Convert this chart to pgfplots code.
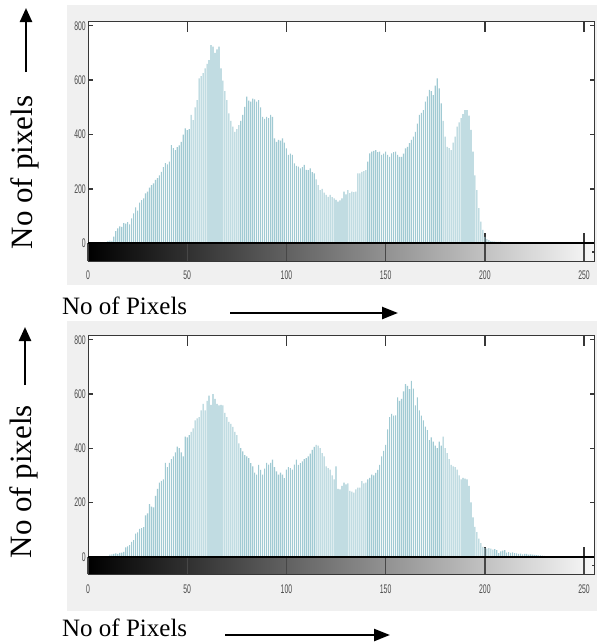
\documentclass[border=0pt]{standalone}
\usepackage{fontspec}
\setmainfont{Liberation Serif}
\newfontfamily\tickfont[FakeStretch=0.55]{Liberation Sans}
\usepackage{pgfplots}
\pgfplotsset{compat=1.18}
\usetikzlibrary{arrows.meta}

\definecolor{panelbg}{RGB}{240,240,240}
\definecolor{barcol}{RGB}{160,202,211}
\definecolor{framecol}{RGB}{55,55,55}

\pgfplotsset{
  common/.style={
    scale only axis, width=506bp, xmin=0, xmax=255,
    anchor=south west, tick align=inside,
    tick style={framecol, line width=1.4bp},
    axis line style={framecol, line width=0.8bp},
    tick label style={font=\tickfont\fontsize{12.5bp}{12.5bp}\selectfont, text=black!70, inner sep=1bp},
    /pgf/number format/assume math mode=true,
  },
  % histogram part: long x ticks top and bottom
  histA/.style={common, ymin=0, ymax=815, clip=false,
    xtick={50,100,...,250}, xticklabels={}, ytick=\empty,
    major tick length=10bp, axis background/.style={fill=white}},
  % same frame again, only the short y ticks and their labels
  histB/.style={common, ymin=0, ymax=815,
    xtick=\empty, ytick={0,200,...,800}, major tick length=4.5bp,
    yticklabel style={xshift=-1bp}},
  % grey-level strip below
  cbar/.style={common, ymin=0, ymax=1, axis on top,
    xtick={0,50,...,250}, xmajorgrids,
    grid style={black!72, line width=1.4bp},
    xtick style={draw=none},
    ytick={0.5}, yticklabels={}, ytick pos=right, major tick length=2.5bp,
    xticklabel style={yshift=-9bp}},
}

\begin{document}
\begin{tikzpicture}
\useasboundingbox (0,0) rectangle (597bp,-643bp);
\fill[panelbg] (67bp,-5bp) rectangle (597bp,-285bp);
\fill[panelbg] (67bp,-321bp) rectangle (597bp,-611bp);

% ---------- top panel ----------
\begin{axis}[histA, at={(88bp,-243.3bp)}, height=221.6bp]
\addplot[ybar, bar width=1.1bp, fill=barcol, draw=none] coordinates {
(10,8) (11,10) (12,9) (13,25) (14,45) (15,55) (16,62) (17,60) (18,74) (19,72)
(20,78) (21,70) (22,92) (23,110) (24,132) (25,120) (26,150) (27,159) (28,165) (29,184)
(30,190) (31,205) (32,214) (33,220) (34,233) (35,240) (36,250) (37,263) (38,280) (39,295)
(40,290) (41,300) (42,361) (43,350) (44,343) (45,354) (46,360) (47,373) (48,400) (49,423)
(50,416) (51,420) (52,472) (53,453) (54,500) (55,527) (56,607) (57,615) (58,626) (59,643)
(60,660) (61,674) (62,729) (63,723) (64,700) (65,713) (66,723) (67,643) (68,598) (69,560)
(70,527) (71,478) (72,450) (73,429) (74,410) (75,420) (76,435) (77,450) (78,472) (79,502)
(80,539) (81,525) (82,521) (83,532) (84,529) (85,521) (86,527) (87,500) (88,465) (89,458)
(90,465) (91,460) (92,472) (93,465) (94,386) (95,373) (96,380) (97,378) (98,386) (99,370)
(100,349) (101,325) (102,330) (103,325) (104,294) (105,285) (106,282) (107,276) (108,280) (109,288)
(110,270) (111,269) (112,276) (113,262) (114,257) (115,235) (116,214) (117,196) (118,200) (119,186)
(120,178) (121,171) (122,178) (123,170) (124,165) (125,160) (126,153) (127,158) (128,165) (129,190)
(130,180) (131,196) (132,185) (133,190) (134,188) (135,190) (136,257) (137,257) (138,263) (139,265)
(140,269) (141,300) (142,331) (143,337) (144,340) (145,343) (146,335) (147,337) (148,325) (149,330)
(150,337) (151,325) (152,318) (153,331) (154,335) (155,337) (156,325) (157,318) (158,318) (159,330)
(160,349) (161,355) (162,368) (163,380) (164,392) (165,410) (166,440) (167,472) (168,480) (169,490)
(170,521) (171,540) (172,564) (173,560) (174,545) (175,580) (176,607) (177,570) (178,515) (179,450)
(180,392) (181,355) (182,350) (183,343) (184,370) (185,392) (186,429) (187,445) (188,460) (189,475)
(190,490) (191,490) (192,470) (193,417) (194,337) (195,250) (196,196) (197,129) (198,80) (199,49)
(200,24) (201,15) (202,12) (203,8) (204,7) (205,6) (206,5) (207,5) (208,6) (209,5)
(210,4) (211,4) (212,3) (213,3) (214,2) (215,2)
};
\end{axis}
\begin{axis}[histB, at={(88bp,-243.3bp)}, height=221.6bp]
\end{axis}
\begin{axis}[cbar, at={(88bp,-261bp)}, height=17.7bp]
\fill[left color=black, right color=white!97!black] (rel axis cs:0,0) rectangle (rel axis cs:1,1);
\end{axis}
\draw[black, line width=1.8bp] (88bp,-243.3bp) -- (594bp,-243.3bp);

% ---------- bottom panel ----------
\begin{axis}[histA, at={(88bp,-556.7bp)}, height=221bp]
\addplot[ybar, bar width=1.1bp, fill=barcol, draw=none] coordinates {
(11,8) (12,9) (13,10) (14,12) (15,10) (16,14) (17,15) (18,18) (19,34)
(20,38) (21,43) (22,55) (23,61) (24,85) (25,90) (26,103) (27,105) (28,109) (29,152)
(30,160) (31,194) (32,185) (33,182) (34,224) (35,250) (36,273) (37,280) (38,285) (39,346)
(40,330) (41,346) (42,360) (43,370) (44,385) (45,406) (46,400) (47,385) (48,370) (49,443)
(50,440) (51,448) (52,460) (53,473) (54,503) (55,510) (56,515) (57,540) (58,564) (59,540)
(60,575) (61,594) (62,560) (63,600) (64,582) (65,564) (66,558) (67,560) (68,558) (69,530)
(70,515) (71,497) (72,490) (73,479) (74,460) (75,448) (76,418) (77,400) (78,388) (79,375)
(80,370) (81,364) (82,345) (83,333) (84,310) (85,303) (86,339) (87,320) (88,303) (89,325)
(90,346) (91,340) (92,346) (93,358) (94,330) (95,315) (96,303) (97,310) (98,303) (99,290)
(100,321) (101,330) (102,327) (103,321) (104,340) (105,358) (106,339) (107,345) (108,352) (109,360)
(110,364) (111,370) (112,380) (113,394) (114,405) (115,412) (116,410) (117,400) (118,382) (119,370)
(120,333) (121,327) (122,321) (123,300) (124,285) (125,333) (126,250) (127,248) (128,261) (129,273)
(130,267) (131,270) (132,243) (133,240) (134,236) (135,248) (136,255) (137,255) (138,279) (139,270)
(140,273) (141,285) (142,291) (143,303) (144,300) (145,309) (146,320) (147,339) (148,370) (149,390)
(150,412) (151,470) (152,515) (153,527) (154,520) (155,521) (156,588) (157,575) (158,582) (159,610)
(160,636) (161,630) (162,618) (163,648) (164,620) (165,558) (166,588) (167,540) (168,520) (169,503)
(170,480) (171,467) (172,430) (173,440) (174,424) (175,410) (176,400) (177,424) (178,410) (179,443)
(180,400) (181,382) (182,360) (183,339) (184,333) (185,330) (186,321) (187,300) (188,285) (189,291)
(190,288) (191,285) (192,261) (193,200) (194,145) (195,110) (196,91) (197,67) (198,50) (199,36)
(200,33) (201,30) (202,32) (203,30) (204,26) (205,28) (206,24) (207,13) (208,20) (209,22)
(210,24) (211,15) (212,17) (213,14) (214,16) (215,13) (216,12) (217,10) (218,11) (219,9)
(220,10) (221,10) (222,8) (223,9) (224,8) (225,7) (226,6) (227,5) (228,5) (229,4)
(230,3)
};
\end{axis}
\begin{axis}[histB, at={(88bp,-556.7bp)}, height=221bp]
\end{axis}
\begin{axis}[cbar, at={(88bp,-574.3bp)}, height=17.6bp]
\fill[left color=black, right color=white!97!black] (rel axis cs:0,0) rectangle (rel axis cs:1,1);
\end{axis}
\draw[black, line width=1.8bp] (88bp,-556.7bp) -- (594bp,-556.7bp);

% ---------- outer labels and arrows ----------
\node[rotate=90, font=\fontsize{31bp}{31bp}\selectfont] at (25bp,-172.5bp) {No of pixels};
\draw[line width=2.4bp, -{Triangle[length=14bp,width=12bp]}] (26bp,-72bp) -- (26bp,-8bp);
\node[anchor=base west, inner sep=0pt, font=\fontsize{25bp}{25bp}\selectfont] at (62bp,-314bp) {No of Pixels};
\draw[line width=2.4bp, -{Triangle[length=16bp,width=12bp]}] (230bp,-313bp) -- (398bp,-313bp);

\node[rotate=90, font=\fontsize{31bp}{31bp}\selectfont] at (23.5bp,-481.7bp) {No of pixels};
\draw[line width=2.4bp, -{Triangle[length=14bp,width=12bp]}] (25bp,-385bp) -- (25bp,-327bp);
\node[anchor=base west, inner sep=0pt, font=\fontsize{25bp}{25bp}\selectfont] at (62bp,-636bp) {No of Pixels};
\draw[line width=2.4bp, -{Triangle[length=16bp,width=12bp]}] (225bp,-635bp) -- (390bp,-635bp);
\end{tikzpicture}
\end{document}
